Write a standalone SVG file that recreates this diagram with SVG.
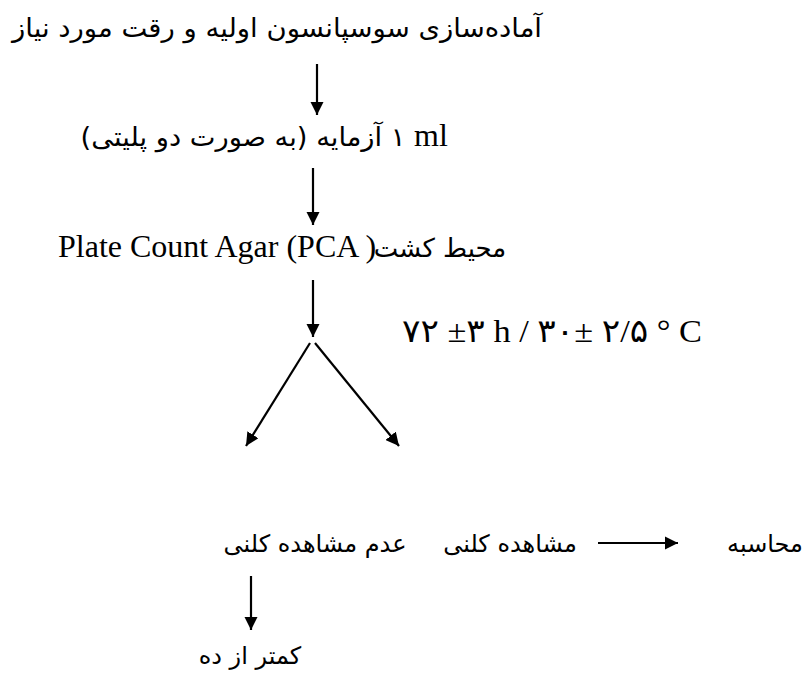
<svg xmlns="http://www.w3.org/2000/svg" width="805" height="682" viewBox="0 0 805 682">
<style>
.fa{font-family:"DejaVu Sans","Noto Sans",sans-serif;font-size:26px;fill:#000;direction:rtl}
.sm{font-size:24px}
.lt{font-family:"Liberation Serif","DejaVu Sans",serif;font-size:32px;fill:#000}
.ln{stroke:#000;stroke-width:2.2;fill:none}
</style>
<defs>
<marker id="ah" viewBox="0 0 10 10" refX="10" refY="5" markerWidth="6" markerHeight="6" markerUnits="strokeWidth" orient="auto">
<path d="M0,0 L10,5 L0,10 z" fill="#000"/>
</marker>
</defs>
<rect width="805" height="682" fill="#fff"/>
<g id="n1"><text class="fa" x="277" y="37" text-anchor="middle" textLength="530" lengthAdjust="spacingAndGlyphs">آماده‌سازی سوسپانسون اولیه و رقت مورد نیاز</text></g>
<g id="n2"><text class="fa" x="243" y="146" text-anchor="middle" textLength="325" lengthAdjust="spacingAndGlyphs">۱ آزمایه (به صورت دو پلیتی)</text><text class="lt" x="414" y="146">ml</text></g>
<g id="n3"><text class="lt" x="58" y="257">Plate Count Agar (PCA )</text><text class="fa" x="440" y="257" text-anchor="middle">محیط کشت</text></g>
<g id="n4"><text class="lt" x="402" y="342" direction="ltr" textLength="300" lengthAdjust="spacingAndGlyphs">۷۲ ±۳ h / ۳۰± ۲/۵ ° C</text></g>
<g id="n5"><text class="fa sm" x="315" y="552" text-anchor="middle">عدم مشاهده کلنی</text></g>
<g id="n6"><text class="fa sm" x="510" y="552" text-anchor="middle">مشاهده کلنی</text></g>
<g id="n7"><text class="fa sm" x="765" y="552" text-anchor="middle">محاسبه</text></g>
<g id="n8"><text class="fa sm" x="250" y="664" text-anchor="middle">کمتر از ده</text></g>
<g id="connectors">
<line class="ln" x1="317" y1="64" x2="317" y2="115" marker-end="url(#ah)"/>
<line class="ln" x1="313" y1="168" x2="313" y2="225" marker-end="url(#ah)"/>
<line class="ln" x1="313" y1="280" x2="313" y2="337" marker-end="url(#ah)"/>
<line class="ln" x1="310" y1="343" x2="246" y2="446" marker-end="url(#ah)"/>
<line class="ln" x1="315" y1="343" x2="399" y2="446" marker-end="url(#ah)"/>
<line class="ln" x1="598" y1="543" x2="678" y2="543" marker-end="url(#ah)"/>
<line class="ln" x1="251" y1="576" x2="251" y2="630" marker-end="url(#ah)"/>
</g>
</svg>
